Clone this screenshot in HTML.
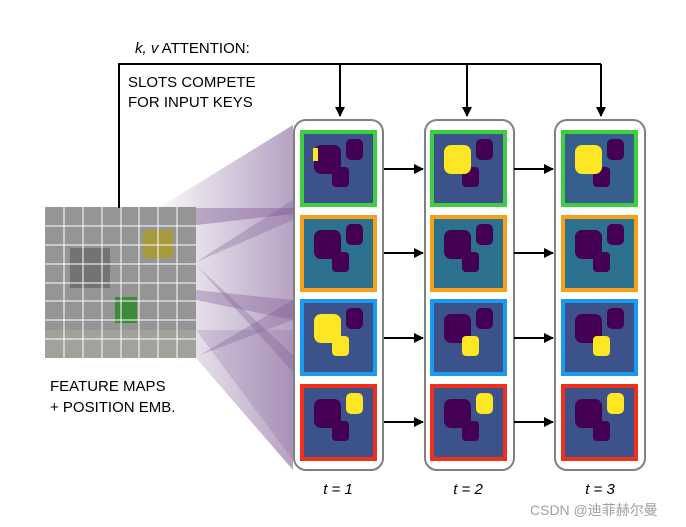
<!DOCTYPE html>
<html><head><meta charset="utf-8"><style>
html,body{margin:0;padding:0;background:#fff;}
svg{display:block;font-family:"Liberation Sans","Noto Sans CJK SC",sans-serif;}
</style></head><body>
<svg width="686" height="527" viewBox="0 0 686 527" xmlns="http://www.w3.org/2000/svg">
<defs>
<linearGradient id="fg" x1="0" x2="1" y1="0" y2="0">
<stop offset="0" stop-color="#7a5590" stop-opacity="0.05"/>
<stop offset="1" stop-color="#7a5590" stop-opacity="0.55"/>
</linearGradient>
<marker id="ar" markerWidth="10" markerHeight="10" refX="9" refY="5" orient="auto" markerUnits="userSpaceOnUse">
<path d="M0,0 L10,5 L0,10 z" fill="#000"/>
</marker>
<g id="blobs">
<rect x="14" y="15" width="27" height="29" rx="7" fill="#440154"/>
<rect x="46" y="9" width="17" height="21" rx="5" fill="#440154"/>
<rect x="32" y="37" width="17" height="20" rx="4" fill="#440154"/>
</g>
</defs>

<!-- fans -->
<polygon points="160,207 293,125 293,470 196,358 196,207" fill="url(#fg)"/>
<polygon points="196,208 196,225 293,214 293,208" fill="#7a5590" opacity="0.4"/>
<polygon points="196,262 293,200 293,220" fill="#7a5590" opacity="0.3"/>
<polygon points="196,290 293,300 293,320 196,300" fill="#7a5590" opacity="0.35"/>
<polygon points="200,355 293,300 293,320" fill="#7a5590" opacity="0.3"/>
<polygon points="196,265 293,355 293,372" fill="#7a5590" opacity="0.3"/>
<polygon points="196,330 293,330 293,460" fill="#7a5590" opacity="0.2"/>

<!-- feature grid -->
<rect x="45" y="207" width="151" height="151" fill="#959595"/>
<rect x="70" y="248" width="40" height="40" fill="#737373"/>
<rect x="143" y="230" width="30" height="28" fill="#a79a3c"/>
<rect x="115" y="297" width="22" height="26" fill="#3c8a3c"/>
<rect x="45" y="330" width="151" height="28" fill="#a8a6a0" opacity="0.7"/>
<g stroke="#ffffff" stroke-width="1">
<line x1="64" y1="207" x2="64" y2="358"/><line x1="83" y1="207" x2="83" y2="358"/><line x1="102" y1="207" x2="102" y2="358"/><line x1="121" y1="207" x2="121" y2="358"/><line x1="139" y1="207" x2="139" y2="358"/><line x1="158" y1="207" x2="158" y2="358"/><line x1="177" y1="207" x2="177" y2="358"/>
<line x1="45" y1="226" x2="196" y2="226"/><line x1="45" y1="245" x2="196" y2="245"/><line x1="45" y1="264" x2="196" y2="264"/><line x1="45" y1="283" x2="196" y2="283"/><line x1="45" y1="301" x2="196" y2="301"/><line x1="45" y1="320" x2="196" y2="320"/><line x1="45" y1="339" x2="196" y2="339"/>
</g>

<!-- attention lines -->
<g stroke="#000" stroke-width="2" fill="none">
<polyline points="119,208 119,64 601,64"/>
<line x1="340" y1="64" x2="340" y2="116" marker-end="url(#ar)"/>
<line x1="467" y1="64" x2="467" y2="116" marker-end="url(#ar)"/>
<line x1="601" y1="64" x2="601" y2="116" marker-end="url(#ar)"/>
</g>
<text x="135" y="53" font-size="15"><tspan font-style="italic">k, v</tspan> ATTENTION:</text>
<text x="128" y="87" font-size="15">SLOTS COMPETE</text>
<text x="128" y="107" font-size="15">FOR INPUT KEYS</text>
<text x="50" y="391" font-size="15">FEATURE MAPS</text>
<text x="50" y="412" font-size="15">+ POSITION EMB.</text>

<!-- column boxes -->
<g fill="#fff" stroke="#808080" stroke-width="2">
<rect x="294" y="120" width="89" height="350" rx="12"/>
<rect x="425" y="120" width="89" height="350" rx="12"/>
<rect x="555" y="120" width="90" height="350" rx="12"/>
</g>

<!-- tiles -->
<g>
<g transform="translate(300,130)"><rect x="2" y="2" width="73" height="73" fill="#3b528b" stroke="#3ecf3e" stroke-width="4"/><use href="#blobs"/><rect x="13" y="18" width="5" height="13" fill="#fde725"/></g>
<g transform="translate(300,215)"><rect x="2" y="2" width="73" height="73" fill="#2c728e" stroke="#f7a11a" stroke-width="4"/><use href="#blobs"/></g>
<g transform="translate(300,299)"><rect x="2" y="2" width="73" height="73" fill="#3b528b" stroke="#1a9bf0" stroke-width="4"/><use href="#blobs"/><rect x="14" y="15" width="27" height="29" rx="7" fill="#fde725"/><rect x="32" y="37" width="17" height="20" rx="4" fill="#fde725"/></g>
<g transform="translate(300,384)"><rect x="2" y="2" width="73" height="73" fill="#3b528b" stroke="#f0301a" stroke-width="4"/><use href="#blobs"/><rect x="46" y="9" width="17" height="21" rx="5" fill="#fde725"/></g>
</g>
<g transform="translate(430,0)">
<g transform="translate(0,130)"><rect x="2" y="2" width="73" height="73" fill="#3b528b" stroke="#3ecf3e" stroke-width="4"/><use href="#blobs"/><rect x="14" y="15" width="27" height="29" rx="7" fill="#fde725"/></g>
<g transform="translate(0,215)"><rect x="2" y="2" width="73" height="73" fill="#2c728e" stroke="#f7a11a" stroke-width="4"/><use href="#blobs"/></g>
<g transform="translate(0,299)"><rect x="2" y="2" width="73" height="73" fill="#3b528b" stroke="#1a9bf0" stroke-width="4"/><use href="#blobs"/><rect x="32" y="37" width="17" height="20" rx="4" fill="#fde725"/></g>
<g transform="translate(0,384)"><rect x="2" y="2" width="73" height="73" fill="#3b528b" stroke="#f0301a" stroke-width="4"/><use href="#blobs"/><rect x="46" y="9" width="17" height="21" rx="5" fill="#fde725"/></g>
</g>
<g transform="translate(561,0)">
<g transform="translate(0,130)"><rect x="2" y="2" width="73" height="73" fill="#355f8d" stroke="#3ecf3e" stroke-width="4"/><use href="#blobs"/><rect x="14" y="15" width="27" height="29" rx="7" fill="#fde725"/></g>
<g transform="translate(0,215)"><rect x="2" y="2" width="73" height="73" fill="#2c728e" stroke="#f7a11a" stroke-width="4"/><use href="#blobs"/></g>
<g transform="translate(0,299)"><rect x="2" y="2" width="73" height="73" fill="#3b528b" stroke="#1a9bf0" stroke-width="4"/><use href="#blobs"/><rect x="32" y="37" width="17" height="20" rx="4" fill="#fde725"/></g>
<g transform="translate(0,384)"><rect x="2" y="2" width="73" height="73" fill="#3b528b" stroke="#f0301a" stroke-width="4"/><use href="#blobs"/><rect x="46" y="9" width="17" height="21" rx="5" fill="#fde725"/></g>
</g>

<!-- horizontal arrows -->
<g stroke="#000" stroke-width="2">
<line x1="384" y1="169" x2="423" y2="169" marker-end="url(#ar)"/>
<line x1="384" y1="253" x2="423" y2="253" marker-end="url(#ar)"/>
<line x1="384" y1="338" x2="423" y2="338" marker-end="url(#ar)"/>
<line x1="384" y1="422" x2="423" y2="422" marker-end="url(#ar)"/>
<line x1="514" y1="169" x2="553" y2="169" marker-end="url(#ar)"/>
<line x1="514" y1="253" x2="553" y2="253" marker-end="url(#ar)"/>
<line x1="514" y1="338" x2="553" y2="338" marker-end="url(#ar)"/>
<line x1="514" y1="422" x2="553" y2="422" marker-end="url(#ar)"/>
</g>

<g font-size="15" font-style="italic" text-anchor="middle">
<text x="338" y="494">t = 1</text>
<text x="468" y="494">t = 2</text>
<text x="600" y="494">t = 3</text>
</g>
<text x="530" y="515" font-size="14" fill="#a0a0a0">CSDN @迪菲赫尔曼</text>
</svg>
</body></html>
